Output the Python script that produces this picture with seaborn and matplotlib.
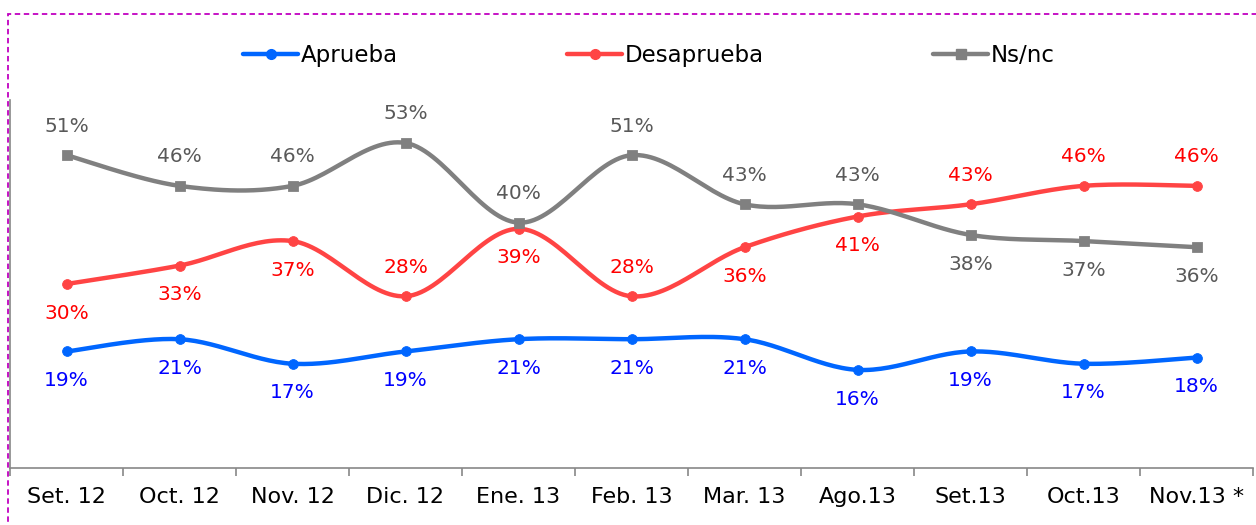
import numpy as np
import pandas as pd
import matplotlib
matplotlib.use("Agg")
import matplotlib.pyplot as plt
import seaborn as sns
from matplotlib.patches import Rectangle

months = ["Set. 12", "Oct. 12", "Nov. 12", "Dic. 12", "Ene. 13", "Feb. 13",
          "Mar. 13", "Ago.13", "Set.13", "Oct.13", "Nov.13 *"]
aprueba = [19, 21, 17, 19, 21, 21, 21, 16, 19, 17, 18]
desaprueba = [30, 33, 37, 28, 39, 28, 36, 41, 43, 46, 46]
nsnc = [51, 46, 46, 53, 40, 51, 43, 43, 38, 37, 36]

# label above (+1) or below (-1) the point
apr_pos = [-1] * 11
des_pos = [-1, -1, -1, 1, -1, 1, -1, -1, 1, 1, 1]
ns_pos = [1, 1, 1, 1, 1, 1, 1, 1, -1, -1, -1]


def smooth(y, n=30):
    # excel-like bezier smoothing (catmull-rom control points)
    y = np.asarray(y, float)
    x = np.arange(len(y), dtype=float)
    pts = np.column_stack([x, y])
    out = []
    for i in range(len(pts) - 1):
        p0 = pts[max(i - 1, 0)]
        p1 = pts[i]
        p2 = pts[i + 1]
        p3 = pts[min(i + 2, len(pts) - 1)]
        b1 = p1 + (p2 - p0) / 6
        b2 = p2 - (p3 - p1) / 6
        t = np.linspace(0, 1, n)[:, None]
        seg = ((1 - t) ** 3) * p1 + 3 * ((1 - t) ** 2) * t * b1 + 3 * (1 - t) * t ** 2 * b2 + t ** 3 * p2
        out.append(seg if i == 0 else seg[1:])
    seg = np.vstack(out)
    return seg[:, 0], seg[:, 1]


sns.set_style("white")
plt.rcParams["font.family"] = ["DejaVu Sans"]

fig = plt.figure(figsize=(12.56, 5.25), dpi=100)
ax = fig.add_axes([10 / 1256, 1 - 468 / 525, 1243 / 1256, 368 / 525])

series = [
    ("Aprueba", aprueba, apr_pos, "#0066FF", "#0000FF", "o"),
    ("Desaprueba", desaprueba, des_pos, "#FF4444", "#FF0000", "o"),
    ("Ns/nc", nsnc, ns_pos, "#808080", "#595959", "s"),
]

for name, vals, pos, lc, tc, mk in series:
    sx, sy = smooth(vals)
    sns.lineplot(x=sx, y=sy, ax=ax, color=lc, linewidth=3.2, sort=False)
    sns.scatterplot(x=np.arange(len(vals)), y=vals, ax=ax, color=lc, marker=mk,
                    s=50, edgecolor=lc, zorder=3)
    ax.plot([], [], color=lc, linewidth=3.2, marker=mk, markersize=7, label=name)
    for i, (v, p) in enumerate(zip(vals, pos)):
        ax.annotate(f"{v}%", (i, v), xytext=(0, 21 * p), textcoords="offset points",
                    ha="center", va="center", fontsize=14.5, color=tc)

ax.set_xlim(-0.5, len(months) - 0.5)
ax.set_ylim(0, 60)
ax.set_yticks([])
ax.set_xticks(np.arange(-0.5, len(months), 1))
ax.set_xticklabels([])
ax.set_xticks(np.arange(len(months)), minor=True)
ax.set_xticklabels(months, minor=True, fontsize=16, color="black")
ax.tick_params(axis="x", which="major", length=6, color="#888888", width=1.2, bottom=True)
ax.tick_params(axis="x", which="minor", length=0, pad=14)
for s in ["top", "right"]:
    ax.spines[s].set_visible(False)
for s in ["left", "bottom"]:
    ax.spines[s].set_color("#888888")
    ax.spines[s].set_linewidth(1.2)

ax.legend(loc="center", bbox_to_anchor=(0.514, 1.12), ncol=3, frameon=False,
          fontsize=16.5, labelcolor="black", handlelength=2.4, columnspacing=7.4,
          handletextpad=0.1)

fig.patches.append(Rectangle((8 / 1256, -0.1), 1.2, 1.1 - 14 / 525, transform=fig.transFigure,
                             fill=False, edgecolor="#C000C0", linestyle=(0, (3, 2)), linewidth=1.3))

fig.savefig("out.png", dpi=100)
